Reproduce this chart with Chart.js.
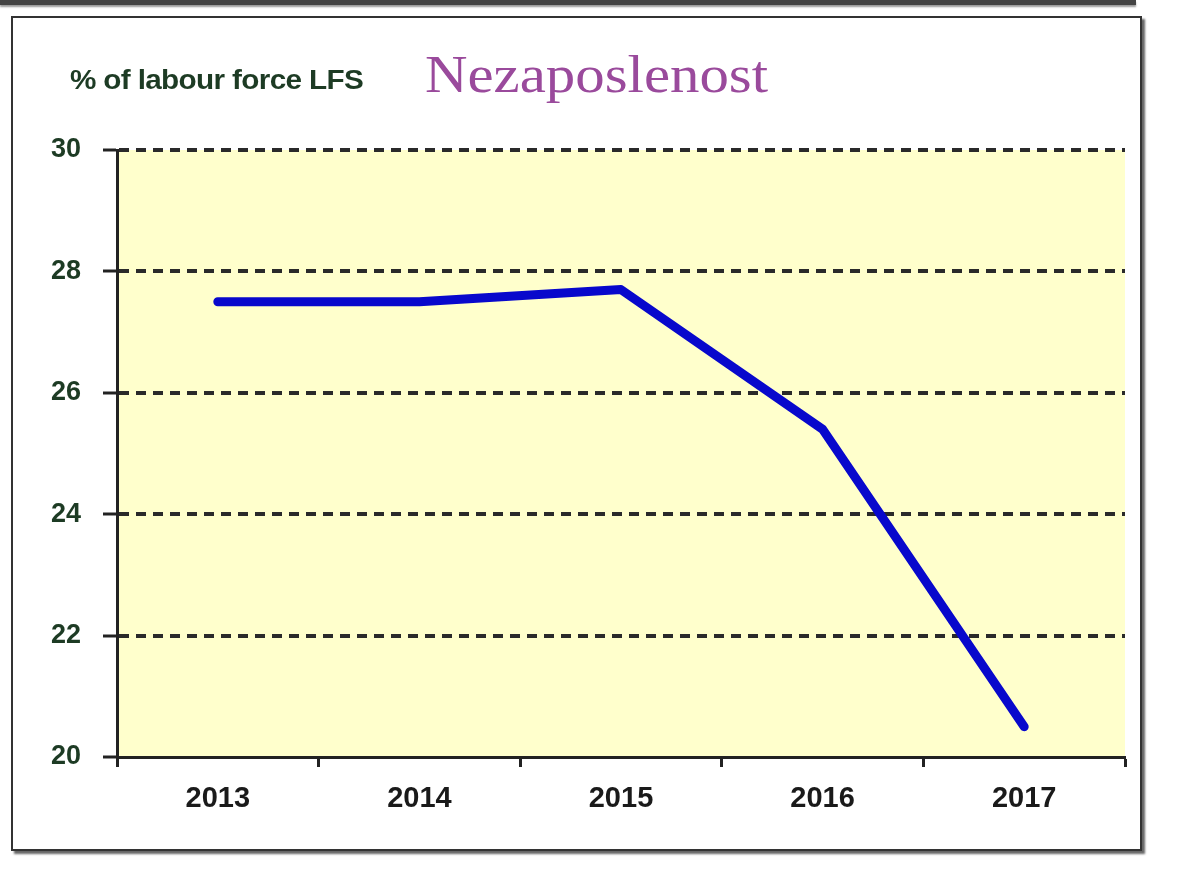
<!DOCTYPE html>
<html>
<head>
<meta charset="utf-8">
<script src="https://cdn.jsdelivr.net/npm/chart.js@4"></script>
<style>
  body { margin:0; background:#fff; width:1180px; height:876px; overflow:hidden; position:relative; font-family:"Liberation Sans", Arial, sans-serif; }
  #topbar { position:absolute; left:0; top:0; width:1136px; height:5px; background:#444; box-shadow:0 2px 2px #999; }
  #frame { position:absolute; left:11px; top:16px; width:1127px; height:831px; border:2px solid #333; box-shadow:3px 3px 2px #666; }
  #unit { position:absolute; left:70px; top:65px; font-size:27px; font-weight:bold; color:#1d3b24; letter-spacing:-0.6px; transform:scaleX(1.1); transform-origin:left top; }
  #title { position:absolute; left:425px; top:44px; font-family:"Liberation Serif", "DejaVu Serif", serif; font-size:53px; color:#9a4a9c; transform:scaleX(1.11); transform-origin:left top; }
  #wrap { position:absolute; left:0; top:0; width:1180px; height:876px; }
</style>
</head>
<body>
<div id="topbar"></div>
<div id="frame"></div>
<div id="wrap"><canvas id="chart"></canvas></div>
<div id="unit">% of labour force LFS</div>
<div id="title">Nezaposlenost</div>
<script>
// ====== Datos ======
const years = ['2013', '2014', '2015', '2016', '2017'];
const unemployment = [27.5, 27.5, 27.7, 25.4, 20.5];
const yTicks = [20, 22, 24, 26, 28, 30];

// fondo amarillo del área del gráfico
const plotBg = {
  id: 'plotBg',
  beforeDraw(chart) {
    const { ctx, chartArea: a } = chart;
    ctx.save();
    ctx.fillStyle = '#ffffcc';
    ctx.fillRect(a.left, a.top, a.right - a.left, a.bottom - a.top);
    ctx.restore();
  }
};

new Chart(document.getElementById('chart'), {
  type: 'line',
  data: {
    labels: years,
    datasets: [{
      data: unemployment,
      borderColor: '#0808cc',
      borderWidth: 9,
      borderCapStyle: 'round',
      borderJoinStyle: 'round',
      pointRadius: 0,
      tension: 0,
      fill: false
    }]
  },
  options: {
    responsive: true,
    maintainAspectRatio: false,
    animation: false,
    layout: { padding: { left: 0, top: 150, right: 55, bottom: 49 } },
    plugins: { legend: { display: false }, tooltip: { enabled: false } },
    scales: {
      x: {
        offset: true,
        grid: { offset: true, drawOnChartArea: false, drawTicks: true, tickLength: 10, tickColor: '#222', tickWidth: 3 },
        border: { display: true, color: '#222', width: 3 },
        ticks: { color: '#1a1a1a', padding: 15, font: { family: 'Liberation Sans', size: 29, weight: 'bold' } },
        afterFit: s => { s.height = 70; }
      },
      y: {
        min: 20, max: 30,
        afterBuildTicks: s => { s.ticks = yTicks.map(v => ({ value: v })); },
        grid: {
          color: c => (c.tick && c.tick.value === 20) ? 'rgba(0,0,0,0)' : '#2a2a2a',
          lineWidth: 4, tickLength: 14, tickColor: '#222', tickWidth: 3, tickBorderDash: []
        },
        border: { display: true, color: '#222', width: 3, dash: [10, 7] },
        ticks: { color: '#1d3b24', padding: 22, font: { family: 'Liberation Sans', size: 27, weight: 'bold' } },
        afterFit: s => { s.width = 117; }
      }
    }
  },
  plugins: [plotBg]
});
</script>
</body>
</html>
